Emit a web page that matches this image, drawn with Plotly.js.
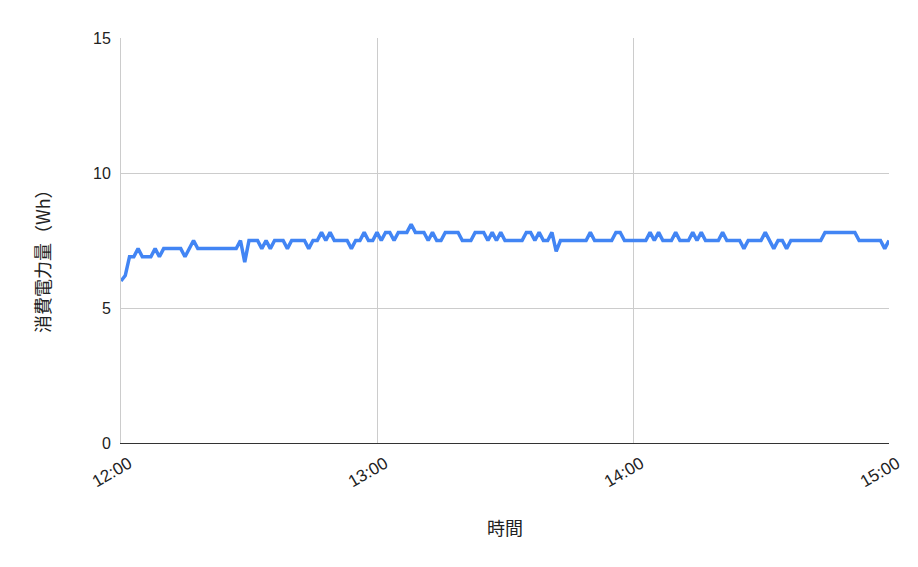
<!DOCTYPE html>
<html>
<head>
<meta charset="utf-8">
<script src="https://cdn.plot.ly/plotly-3.0.1.min.js"></script>
<style>html,body{margin:0;padding:0;background:#fff;}#chart{width:918px;height:567px;}</style>
</head>
<body>
<div id="chart"></div>
<script>
// 1-minute readings from 12:00 to 15:00
const startTime = '2024-01-01T12:00:00';
const consumptionWh = [
  6.0, 6.2, 6.9, 6.9, 7.2, 6.9, 6.9, 6.9, 7.2, 6.9,
  7.2, 7.2, 7.2, 7.2, 7.2, 6.9, 7.2, 7.5, 7.2, 7.2,
  7.2, 7.2, 7.2, 7.2, 7.2, 7.2, 7.2, 7.2, 7.5, 6.7,
  7.5, 7.5, 7.5, 7.2, 7.5, 7.2, 7.5, 7.5, 7.5, 7.2,
  7.5, 7.5, 7.5, 7.5, 7.2, 7.5, 7.5, 7.8, 7.5, 7.8,
  7.5, 7.5, 7.5, 7.5, 7.2, 7.5, 7.5, 7.8, 7.5, 7.5,
  7.8, 7.5, 7.8, 7.8, 7.5, 7.8, 7.8, 7.8, 8.1, 7.8,
  7.8, 7.8, 7.5, 7.8, 7.5, 7.5, 7.8, 7.8, 7.8, 7.8,
  7.5, 7.5, 7.5, 7.8, 7.8, 7.8, 7.5, 7.8, 7.5, 7.8,
  7.5, 7.5, 7.5, 7.5, 7.5, 7.8, 7.8, 7.5, 7.8, 7.5,
  7.5, 7.8, 7.1, 7.5, 7.5, 7.5, 7.5, 7.5, 7.5, 7.5,
  7.8, 7.5, 7.5, 7.5, 7.5, 7.5, 7.8, 7.8, 7.5, 7.5,
  7.5, 7.5, 7.5, 7.5, 7.8, 7.5, 7.8, 7.5, 7.5, 7.5,
  7.8, 7.5, 7.5, 7.5, 7.8, 7.5, 7.8, 7.5, 7.5, 7.5,
  7.5, 7.8, 7.5, 7.5, 7.5, 7.5, 7.2, 7.5, 7.5, 7.5,
  7.5, 7.8, 7.5, 7.2, 7.5, 7.5, 7.2, 7.5, 7.5, 7.5,
  7.5, 7.5, 7.5, 7.5, 7.5, 7.8, 7.8, 7.8, 7.8, 7.8,
  7.8, 7.8, 7.8, 7.5, 7.5, 7.5, 7.5, 7.5, 7.5, 7.2,
  7.5
];
const xTickLabels = ['12:00', '13:00', '14:00', '15:00'];
const xTickTimes = ['2024-01-01 12:00', '2024-01-01 13:00', '2024-01-01 14:00', '2024-01-01 15:00'];
const yTickValues = [0, 5, 10, 15];
const xTitle = '時間';
const yTitle = '消費電力量（Wh）';

const t0 = new Date(startTime).getTime();
const pad = n => String(n).padStart(2, '0');
const times = consumptionWh.map((_, i) => {
  const d = new Date(t0 + i * 60000);
  return d.getFullYear() + '-' + pad(d.getMonth() + 1) + '-' + pad(d.getDate()) + ' ' + pad(d.getHours()) + ':' + pad(d.getMinutes());
});

const yTickFont = {family: '"Liberation Sans", Arial, sans-serif', size: 16, color: '#222222'};
const xTickFont = {family: '"Liberation Sans", Arial, sans-serif', size: 17, color: '#222222'};
const cjkFont = {family: '"Noto Sans CJK JP", "Liberation Sans", sans-serif', size: 18, color: '#222222'};

Plotly.newPlot('chart', [{
  type: 'scatter',
  mode: 'lines',
  x: times,
  y: consumptionWh,
  line: {color: '#4285F4', width: 3.5, shape: 'linear'},
  hoverinfo: 'skip'
}], {
  width: 918,
  height: 567,
  margin: {l: 121, r: 29, t: 38, b: 124},
  paper_bgcolor: '#ffffff',
  plot_bgcolor: '#ffffff',
  showlegend: false,
  xaxis: {
    type: 'date',
    range: [xTickTimes[0], xTickTimes[xTickTimes.length - 1]],
    tickmode: 'array',
    tickvals: xTickTimes,
    ticktext: xTickLabels,
    tickangle: -30,
    tickfont: xTickFont,
    ticklabelshift: 8,
    ticklabelstandoff: 3,
    showgrid: true,
    gridcolor: '#cccccc',
    gridwidth: 1,
    showline: true,
    linecolor: '#333333',
    linewidth: 1.3,
    ticks: '',
    zeroline: false
  },
  yaxis: {
    range: [0, 15],
    tickmode: 'array',
    tickvals: yTickValues,
    ticktext: yTickValues.map(String),
    tickfont: yTickFont,
    showgrid: true,
    gridcolor: '#cccccc',
    gridwidth: 1,
    showline: true,
    linecolor: '#cccccc',
    linewidth: 1,
    zeroline: false,
    ticks: '',
    ticklabelstandoff: 6
  },
  annotations: [
    {text: yTitle, font: cjkFont, textangle: -90, showarrow: false,
     xref: 'paper', yref: 'paper', x: 0, xshift: -79, y: 0.459,
     xanchor: 'center', yanchor: 'middle'},
    {text: xTitle, font: cjkFont, showarrow: false,
     xref: 'paper', yref: 'paper', x: 0.5, y: -0.207,
     xanchor: 'center', yanchor: 'middle'}
  ]
}, {displayModeBar: false, staticPlot: true});
</script>
</body>
</html>
